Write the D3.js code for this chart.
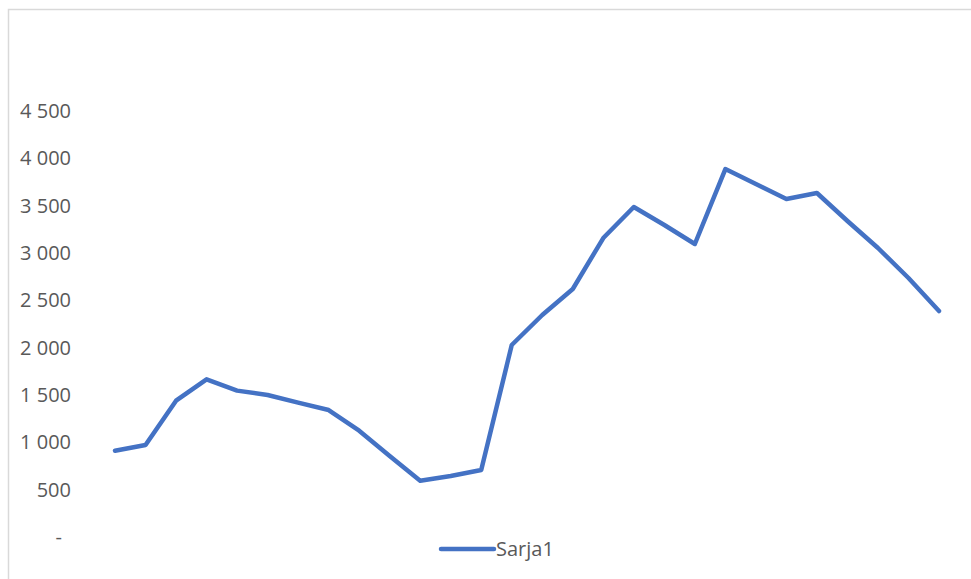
<!DOCTYPE html>
<html><head><meta charset="utf-8">
<script src="https://cdn.jsdelivr.net/npm/d3@7"></script>
<style>body{margin:0;background:#fff;}svg{display:block;}</style>
</head><body>
<svg id="c" width="971" height="579"></svg>
<script>
const categories = d3.range(1, 29);
const values = [912, 972, 1440, 1666, 1546, 1500, 1419, 1341, 1123, 856, 595, 644, 708, 2028, 2345, 2620, 3158, 3486, 3296, 3095, 3887, 3729, 3570, 3634, 3338, 3053, 2736, 2387];
const tickValues = [0, 500, 1000, 1500, 2000, 2500, 3000, 3500, 4000, 4500];
const seriesName = "Sarja1";

const svg = d3.select("#c");
const font = "'Open Sans', 'Noto Sans', sans-serif";

svg.append("rect").attr("x", 8.5).attr("y", 9.5).attr("width", 1000).attr("height", 1000)
  .attr("fill", "none").attr("stroke", "#d9d9d9").attr("stroke-width", 1.5);

const x = d3.scalePoint().domain(categories).range([115, 939]);
const y = d3.scaleLinear().domain([0, 4500]).range([537, 111]);

const fmt = v => v === 0 ? "-" : d3.format(",")(v).replace(/,/g, " ");
const yAxis = d3.axisLeft(y).tickValues(tickValues).tickSize(0).tickPadding(0).tickFormat(fmt);
const ga = svg.append("g").attr("transform", "translate(71,0)").call(yAxis);
ga.select(".domain").remove();
ga.selectAll("text").attr("fill", "#595959").style("font-family", font).style("font-size", "20px")
  .attr("dx", d => d === 0 ? -9 : 0);

const line = d3.line().x((d, i) => x(categories[i])).y(d => y(d));
svg.append("path").datum(values).attr("d", line).attr("fill", "none")
  .attr("stroke", "#4472C4").attr("stroke-width", 4.5)
  .attr("stroke-linejoin", "round").attr("stroke-linecap", "round");

const lg = svg.append("g");
lg.append("line").attr("x1", 441).attr("x2", 494).attr("y1", 549).attr("y2", 549)
  .attr("stroke", "#4472C4").attr("stroke-width", 4.5).attr("stroke-linecap", "round");
lg.append("text").attr("x", 496).attr("y", 549).attr("dy", "0.35em").text(seriesName)
  .attr("fill", "#595959").style("font-family", font).style("font-size", "20px");
</script>
</body></html>
